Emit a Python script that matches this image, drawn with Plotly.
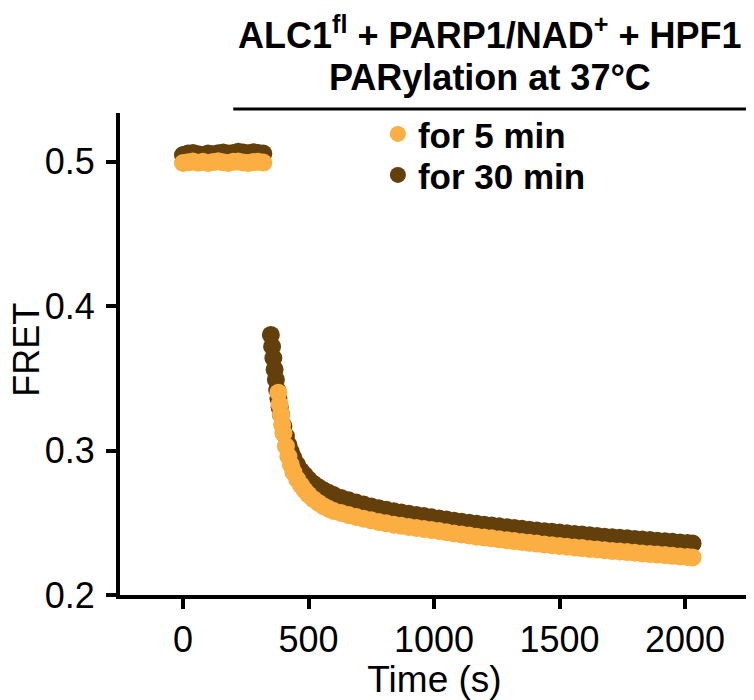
import plotly.graph_objects as go

# FRET traces: a flat baseline before PARylation, then the drop
time_5min = [
    0, 20, 40, 60, 80, 100, 120, 140, 160, 180, 200, 220, 240, 260, 280, 300, 320,
    380, 385, 390, 395, 400, 410, 420, 430, 440, 455, 470, 485, 500, 520, 540, 560,
    580, 600, 630, 660, 690, 720, 750, 780, 810, 840, 870, 900, 930, 960, 990, 1020,
    1050, 1080, 1110, 1140, 1170, 1200, 1230, 1260, 1290, 1320, 1350, 1380, 1410,
    1440, 1470, 1500, 1530, 1560, 1590, 1620, 1650, 1680, 1710, 1740, 1770, 1800,
    1830, 1860, 1890, 1920, 1950, 1980, 2010, 2030,
]
fret_5min = [
    0.4990, 0.4995, 0.5000, 0.4992, 0.4998, 0.4990, 0.4996, 0.5002, 0.4995, 0.4990,
    0.4998, 0.5000, 0.4994, 0.4990, 0.4996, 0.4998, 0.4993,
    0.3400, 0.3320, 0.3250, 0.3180, 0.3120, 0.3030, 0.2960, 0.2900, 0.2850, 0.2800,
    0.2760, 0.2725, 0.2695, 0.2663, 0.2637, 0.2615, 0.2597, 0.2582, 0.2568, 0.2553,
    0.2540, 0.2528, 0.2517, 0.2506, 0.2496, 0.2487, 0.2479, 0.2471, 0.2464, 0.2457,
    0.2450, 0.2443, 0.2435, 0.2426, 0.2419, 0.2412, 0.2404, 0.2398, 0.2392, 0.2385,
    0.2379, 0.2373, 0.2367, 0.2361, 0.2356, 0.2350, 0.2345, 0.2340, 0.2334, 0.2329,
    0.2325, 0.2319, 0.2315, 0.2310, 0.2305, 0.2301, 0.2297, 0.2293, 0.2288, 0.2284,
    0.2280, 0.2276, 0.2271, 0.2267, 0.2263, 0.2260,
]

time_30min = [
    0, 20, 40, 60, 80, 100, 120, 140, 160, 180, 200, 220, 240, 260, 280, 300, 320,
    350, 355, 360, 365, 370, 375, 380, 385, 390, 400, 410, 420, 430, 440, 455, 470,
    485, 500, 520, 540, 560, 580, 600, 630, 660, 690, 720, 750, 780, 810, 840, 870,
    900, 930, 960, 990, 1020, 1050, 1080, 1110, 1140, 1170, 1200, 1230, 1260, 1290,
    1320, 1350, 1380, 1410, 1440, 1470, 1500, 1530, 1560, 1590, 1620, 1650, 1680,
    1710, 1740, 1770, 1800, 1830, 1860, 1890, 1920, 1950, 1980, 2010, 2030,
]
fret_30min = [
    0.5045, 0.5055, 0.5060, 0.5050, 0.5045, 0.5055, 0.5050, 0.5058, 0.5062, 0.5055,
    0.5060, 0.5068, 0.5062, 0.5058, 0.5065, 0.5060, 0.5055,
    0.3800, 0.3720, 0.3640, 0.3560, 0.3490, 0.3420, 0.3360, 0.3300, 0.3250, 0.3170,
    0.3100, 0.3040, 0.2990, 0.2950, 0.2900, 0.2860, 0.2830, 0.2800, 0.2770, 0.2745,
    0.2725, 0.2707, 0.2692, 0.2672, 0.2655, 0.2640, 0.2626, 0.2613, 0.2601, 0.2590,
    0.2580, 0.2571, 0.2562, 0.2554, 0.2546, 0.2538, 0.2530, 0.2522, 0.2514, 0.2507,
    0.2500, 0.2493, 0.2487, 0.2481, 0.2475, 0.2469, 0.2463, 0.2458, 0.2452, 0.2447,
    0.2442, 0.2437, 0.2432, 0.2427, 0.2422, 0.2418, 0.2413, 0.2409, 0.2404, 0.2400,
    0.2396, 0.2392, 0.2388, 0.2384, 0.2380, 0.2376, 0.2372, 0.2368, 0.2364, 0.2360,
    0.2357,
]

x_ticks = [0, 500, 1000, 1500, 2000]
y_ticks = [0.2, 0.3, 0.4, 0.5]

ORANGE = "#FBAE42"
BROWN = "#633F0B"
FONT = "Liberation Sans, Arial, sans-serif"

fig = go.Figure()

# brown first so the orange series sits on top, as in the original;
# each series gets its own legend box so the two rows can sit closer together
fig.add_trace(go.Scatter(
    x=time_30min, y=fret_30min, mode="markers", name="<b>for 30 min</b>",
    marker=dict(color=BROWN, size=18, line=dict(width=0)),
    legend="legend2", showlegend=True,
))
fig.add_trace(go.Scatter(
    x=time_5min, y=fret_5min, mode="markers", name="<b>for 5 min</b>",
    marker=dict(color=ORANGE, size=18, line=dict(width=0)),
    legend="legend", showlegend=True,
))

axis_common = dict(
    showline=True, linecolor="black", linewidth=4,
    ticks="outside", ticklen=10, tickwidth=4, tickcolor="black",
    showgrid=False, zeroline=False, automargin=False,
    tickfont=dict(family=FONT, size=36, color="black"),
)

fig.update_xaxes(
    range=[-251, 2255], tickvals=x_ticks,
    title=dict(text="Time (s)", font=dict(family=FONT, size=37, color="black"), standoff=0),
    **axis_common,
)
fig.update_yaxes(
    range=[0.2, 0.5336], tickvals=y_ticks, tickformat=".1f", ticklabelstandoff=4,
    **axis_common,
)

# y title as an annotation so it can sit right at the left edge like the original
fig.add_annotation(
    text="FRET", textangle=-90,
    xref="paper", yref="paper", x=-0.150, y=0.508, xanchor="center", yanchor="middle",
    showarrow=False, font=dict(family=FONT, size=36, color="black"),
)

# two-line header with the rule underneath
fig.add_annotation(
    text="<b>ALC1<sup>fl</sup> + PARP1/NAD<sup>+</sup> + HPF1</b>",
    xref="paper", yref="paper", x=0.588, y=1.166, xanchor="center", yanchor="middle",
    showarrow=False, font=dict(family=FONT, size=36, color="black"),
)
fig.add_annotation(
    text="<b>PARylation at 37°C</b>",
    xref="paper", yref="paper", x=0.588, y=1.073, xanchor="center", yanchor="middle",
    showarrow=False, font=dict(family=FONT, size=36, color="black"),
)
fig.add_shape(
    type="line", xref="paper", yref="paper", x0=0.18, x1=1.003, y0=1.0083, y1=1.0083,
    line=dict(color="black", width=3),
)

legend_common = dict(
    x=0.41, xanchor="left", yanchor="middle",
    font=dict(family=FONT, size=35, color="black"),
    bgcolor="rgba(0,0,0,0)", itemsizing="trace",
)

# the page body adds an 8px offset, so the figure is 8px smaller than the window
fig.update_layout(
    width=746, height=692,
    margin=dict(l=112, r=5, t=105, b=105),
    paper_bgcolor="white", plot_bgcolor="white",
    font=dict(family=FONT, color="black"),
    showlegend=True,
    legend=dict(y=0.956, **legend_common),
    legend2=dict(y=0.871, **legend_common),
)

fig.write_html("out.html")
